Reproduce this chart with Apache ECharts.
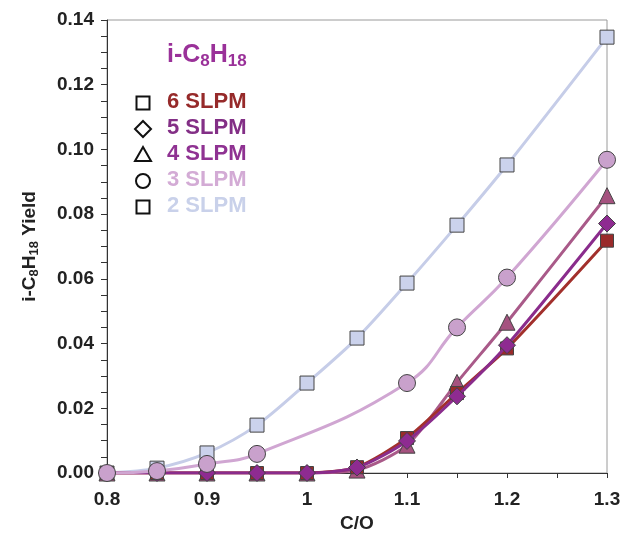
<!DOCTYPE html>
<html><head><meta charset="utf-8">
<script src="https://cdn.jsdelivr.net/npm/echarts@6/dist/echarts.min.js"></script>
<style>html,body{margin:0;padding:0;background:#fff}#c{width:623px;height:533px}</style>
</head><body><div id="c"></div>
<script>
const co = [0.8, 0.85, 0.9, 0.95, 1.0, 1.05, 1.1, 1.15, 1.2, 1.3];
const slpm6 = [0, 0, 0, 0, 0, 0.0018, 0.0108, 0.0247, 0.0385, 0.0718];
const slpm5 = [0, 0, 0, 0, 0, 0.0017, 0.0099, 0.0237, 0.0395, 0.0771];
const slpm4 = [0, 0, 0, 0, 0, 0.0009, 0.0086, 0.0280, 0.0466, 0.0857];
const slpm3 = [0, 0.0006, 0.0028, 0.0059, null, null, 0.0278, 0.0450, 0.0604, 0.0968];
const slpm2 = [0, 0.0015, 0.0062, 0.0148, 0.0278, 0.0417, 0.0587, 0.0766, 0.0952, 0.1347];
const legendNames = ['6 SLPM', '5 SLPM', '4 SLPM', '3 SLPM', '2 SLPM'];
const xTicks = {min: 0.8, max: 1.3, step: 0.1};
const yTicks = {min: 0, max: 0.14, step: 0.02};

const FONT = '"Liberation Sans", Arial, sans-serif';
function pairs(v) { return co.map((x, i) => [x, v[i]]); }

function mk(name, data, opt) {
  return {
    name: name, type: 'line', data: pairs(data),
    smooth: opt.smooth, connectNulls: true,
    symbol: opt.symbol, symbolSize: opt.size, z: opt.z,
    lineStyle: {color: opt.line, width: 3},
    itemStyle: {color: opt.fill, borderColor: '#444', borderWidth: 1},
    emphasis: {disabled: true}
  };
}

const chart = echarts.init(document.getElementById('c'), null, {renderer: 'canvas'});
const legendColors = ['#962a2a', '#832f86', '#8f3292', '#d3abd5', '#c9d1ea'];
const legendY = [103, 129, 155, 181, 207];
const gfx = [];
gfx.push({
  type: 'text', left: 167, top: 43,
  style: {
    text: '{a|i-C}{s|8}{a|H}{s|18}',
    rich: {
      a: {fontFamily: FONT, fontWeight: 'bold', fontSize: 25, fill: '#9a3199', lineHeight: 29},
      s: {fontFamily: FONT, fontWeight: 'bold', fontSize: 17, fill: '#9a3199', lineHeight: 17, verticalAlign: 'bottom'}
    }
  }
});
legendNames.forEach((n, i) => {
  const y = legendY[i];
  gfx.push({type: 'text', left: 167, top: y - 12,
    style: {text: n, fontFamily: FONT, fontWeight: 'bold', fontSize: 22, fill: legendColors[i]}});
  const cx = 143;
  const st = {fill: 'none', stroke: '#111', lineWidth: 2};
  let shape;
  if (i === 0 || i === 4) shape = {type: 'rect', shape: {x: cx - 6.5, y: y - 6.5, width: 13, height: 13}, style: st};
  else if (i === 1) shape = {type: 'polygon', shape: {points: [[cx, y - 8], [cx + 8, y], [cx, y + 8], [cx - 8, y]]}, style: st};
  else if (i === 2) shape = {type: 'polygon', shape: {points: [[cx, y - 8], [cx + 8, y + 6], [cx - 8, y + 6]]}, style: st};
  else shape = {type: 'circle', shape: {cx: cx, cy: y, r: 7}, style: st};
  gfx.push(shape);
});

chart.setOption({
  animation: false,
  backgroundColor: '#fff',
  grid: {left: 107, right: 16, top: 20, bottom: 60, show: true, borderColor: '#9a9a9a', borderWidth: 1,
    outerBoundsMode: 'none', containLabel: false},
  xAxis: {
    type: 'value', min: xTicks.min, max: xTicks.max, interval: xTicks.step,
    name: 'C/O', nameLocation: 'middle', nameGap: 38,
    nameTextStyle: {fontFamily: FONT, fontWeight: 'bold', fontSize: 19, color: '#222'},
    axisLine: {show: true, lineStyle: {color: '#333', width: 1}},
    axisTick: {show: true, length: 5, lineStyle: {color: '#333'}},
    minorTick: {show: true, splitNumber: 2, length: 5, lineStyle: {color: '#333'}},
    splitLine: {show: false},
    axisLabel: {fontFamily: FONT, fontWeight: 'bold', fontSize: 19, color: '#222', margin: 17,
      formatter: v => String(Math.round(v * 10) / 10)}
  },
  yAxis: {
    type: 'value', min: yTicks.min, max: yTicks.max, interval: yTicks.step,
    name: '{a|i-C}{s|8}{a|H}{s|18}{a| Yield}', nameLocation: 'middle', nameGap: 66, nameRotate: 90,
    nameTextStyle: {
      rich: {
        a: {fontFamily: FONT, fontWeight: 'bold', fontSize: 19, color: '#222', lineHeight: 23},
        s: {fontFamily: FONT, fontWeight: 'bold', fontSize: 13, color: '#222', lineHeight: 13, verticalAlign: 'bottom'}
      }
    },
    axisLine: {show: true, lineStyle: {color: '#333', width: 1}},
    axisTick: {show: true, length: 6, lineStyle: {color: '#333'}},
    minorTick: {show: true, splitNumber: 4, length: 6, lineStyle: {color: '#333'}},
    splitLine: {show: false},
    axisLabel: {fontFamily: FONT, fontWeight: 'bold', fontSize: 19, color: '#222', margin: 13,
      formatter: v => v.toFixed(2)}
  },
  graphic: gfx,
  series: [
    mk('2 SLPM', slpm2, {symbol: 'rect', size: 14, fill: '#cbd2ec', line: '#c6cde8', smooth: 0.3, z: 2}),
    mk('4 SLPM', slpm4, {symbol: 'triangle', size: 16, fill: '#a5527f', line: '#a95a89', smooth: 0.25, z: 3}),
    mk('6 SLPM', slpm6, {symbol: 'rect', size: 13, fill: '#9a2a2a', line: '#a2302c', smooth: 0.25, z: 4}),
    mk('5 SLPM', slpm5, {symbol: 'diamond', size: 17, fill: '#8e2b91', line: '#8a2c8c', smooth: 0.25, z: 5}),
    mk('3 SLPM', slpm3, {symbol: 'circle', size: 17, fill: '#c9a1cc', line: '#d0a6d2', smooth: 0.45, z: 6})
  ]
});
</script></body></html>
